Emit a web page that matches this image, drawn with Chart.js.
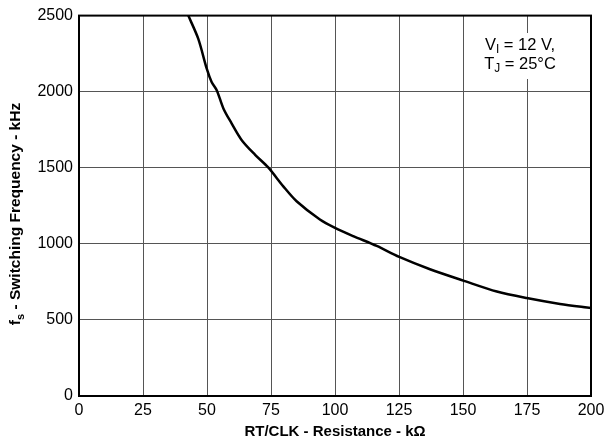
<!DOCTYPE html>
<html>
<head>
<meta charset="utf-8">
<script src="https://cdn.jsdelivr.net/npm/chart.js@4.4.1/dist/chart.umd.min.js"></script>
<style>
  html, body { margin: 0; padding: 0; background: #fff; }
  #wrap { width: 606px; height: 441px; }
</style>
</head>
<body>
<div id="wrap"><canvas id="freq_chart" width="606" height="441"></canvas></div>
<script>
// RT/CLK resistance (kOhm) vs switching frequency (kHz)
const resistance = [42.7, 46.6, 49.9, 51.8, 53.8, 56.4, 59.6, 63.5, 68.8, 73.9, 79.8, 85.0,
      94.1, 100.0, 107.1, 116.3, 125.1, 137.1, 150.4, 163.2, 174.9, 187.9, 200.0];
const frequency = [2500, 2347, 2151, 2064, 2010, 1890, 1792, 1683, 1585, 1502, 1378, 1280,
      1160, 1105, 1051, 986, 914, 833, 757, 687, 644, 605, 578];
const x_ticks = [0, 25, 50, 75, 100, 125, 150, 175, 200];
const y_ticks = [0, 500, 1000, 1500, 2000, 2500];

const FONT = '"Liberation Sans", Arial, sans-serif';

const points = [];
for (let i = 0; i < resistance.length; i++)
{
      points.push({ x: resistance[i], y: frequency[i] });
}

// draw text pieces with subscripts, centred on cx
function drawPieces(ctx, pieces, cx, cy, size, bold)
{
      const w = [];
      let total = 0;
      for (const p of pieces)
      {
            const s = p.sub ? size * 0.72 : size;
            ctx.font = (bold ? 'bold ' : '') + s + 'px ' + FONT;
            const m = ctx.measureText(p.t).width;
            w.push(m);
            total += m;
      }
      let x = cx - total / 2;
      pieces.forEach(function (p, i)
      {
            const s = p.sub ? size * 0.72 : size;
            ctx.font = (bold ? 'bold ' : '') + s + 'px ' + FONT;
            ctx.fillText(p.t, x, p.sub ? cy + size * 0.3 : cy);
            x += w[i];
      });
}

const decorations = {
      id: 'decorations',
      afterDraw: function (chart)
      {
            const ctx = chart.ctx;
            const a = chart.chartArea;
            ctx.save();

            // frame
            ctx.strokeStyle = '#000';
            ctx.lineWidth = 2;
            ctx.strokeRect(a.left, a.top, a.right - a.left, a.bottom - a.top);

            // conditions box
            ctx.fillStyle = '#fff';
            ctx.fillRect(480, 33, 82, 46);
            ctx.fillStyle = '#000';
            ctx.textBaseline = 'middle';
            ctx.textAlign = 'left';
            drawPieces(ctx, [{ t: 'V' }, { t: 'I', sub: true }, { t: ' = 12 V,' }], 520, 45, 16.5, false);
            drawPieces(ctx, [{ t: 'T' }, { t: 'J', sub: true }, { t: ' = 25°C' }], 520, 64, 16.5, false);

            // x title
            drawPieces(ctx, [{ t: 'RT/CLK - Resistance - kΩ' }], 335, 432, 15, true);

            // y title, rotated
            ctx.translate(16, 214);
            ctx.rotate(-Math.PI / 2);
            drawPieces(ctx, [{ t: 'f' }, { t: 's', sub: true }, { t: ' - Switching Frequency - kHz' }], 0, 0, 15.5, true);

            ctx.restore();
      }
};

const config = {
      type: 'scatter',
      data: {
            datasets: [{
                  data: points,
                  showLine: true,
                  borderColor: '#000',
                  borderWidth: 2.5,
                  pointRadius: 0,
                  tension: 0.3,
                  fill: false
            }]
      },
      options: {
            responsive: false,
            animation: false,
            layout: {
                  padding: { left: 0, right: 15, top: 14, bottom: 0 }
            },
            scales: {
                  x: {
                        type: 'linear',
                        min: 0,
                        max: 200,
                        afterBuildTicks: function (scale)
                        {
                              scale.ticks = x_ticks.map(function (v) { return { value: v }; });
                        },
                        afterFit: function (scale)
                        {
                              scale.height = 45;
                              scale.paddingRight = 0;
                        },
                        grid: {
                              color: '#555',
                              lineWidth: 1,
                              drawTicks: false
                        },
                        border: { display: false },
                        ticks: {
                              color: '#000',
                              padding: 5,
                              maxRotation: 0,
                              font: { family: FONT, size: 16 },
                              callback: function (v) { return String(v); }
                        }
                  },
                  y: {
                        type: 'linear',
                        min: 0,
                        max: 2500,
                        afterBuildTicks: function (scale)
                        {
                              scale.ticks = y_ticks.map(function (v) { return { value: v }; });
                        },
                        afterFit: function (scale)
                        {
                              scale.width = 79;
                        },
                        grid: {
                              color: '#555',
                              lineWidth: 1,
                              drawTicks: false
                        },
                        border: { display: false },
                        ticks: {
                              color: '#000',
                              padding: 6,
                              font: { family: FONT, size: 16 },
                              callback: function (v) { return String(v); }
                        }
                  }
            },
            plugins: {
                  legend: { display: false },
                  tooltip: { enabled: false }
            }
      },
      plugins: [decorations]
};

new Chart(document.getElementById('freq_chart'), config);
</script>
</body>
</html>
